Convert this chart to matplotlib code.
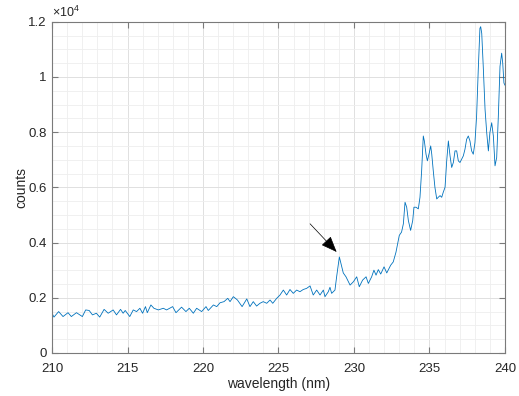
import matplotlib
matplotlib.use('Agg')
import matplotlib.pyplot as plt
from matplotlib.ticker import MultipleLocator

plt.rcParams['font.family'] = ['Liberation Sans', 'DejaVu Sans']
plt.rcParams['mathtext.fontset'] = 'custom'
plt.rcParams['mathtext.rm'] = 'Liberation Sans'

# spectrum (wavelength nm, counts)
wavelength = [
    210.00, 210.13, 210.44, 210.73, 211.06, 211.28, 211.62, 212.01, 212.23, 212.46,
    212.68, 212.94, 213.16, 213.45, 213.72, 214.05, 214.27, 214.54, 214.71, 214.85,
    215.15, 215.38, 215.60, 215.82, 216.00, 216.19, 216.31, 216.55, 216.75, 217.04,
    217.37, 217.59, 217.99, 218.21, 218.58, 218.87, 219.09, 219.36, 219.58, 219.91,
    220.20, 220.35, 220.69, 220.91, 221.13, 221.39, 221.64, 221.79, 222.01, 222.28,
    222.59, 222.90, 223.11, 223.33, 223.55, 223.77, 223.99, 224.22, 224.44, 224.62,
    224.88, 225.10, 225.32, 225.54, 225.76, 225.98, 226.20, 226.42, 226.64, 226.86,
    227.09, 227.30, 227.53, 227.75, 227.97, 228.08, 228.30, 228.41, 228.52, 228.74,
    228.85, 229.03, 229.19, 229.29, 229.47, 229.74, 229.96, 230.18, 230.35, 230.57,
    230.80, 230.95, 231.17, 231.32, 231.46, 231.61, 231.77, 231.99, 232.17, 232.43,
    232.60, 232.78, 232.87, 233.00, 233.15, 233.27, 233.38, 233.49, 233.60, 233.75,
    233.89, 233.97, 234.11, 234.26, 234.37, 234.48, 234.59, 234.66, 234.77, 234.86,
    234.99, 235.08, 235.15, 235.25, 235.36, 235.48, 235.58, 235.70, 235.81, 235.91,
    236.03, 236.14, 236.25, 236.36, 236.47, 236.58, 236.69, 236.80, 236.91, 237.02,
    237.13, 237.24, 237.35, 237.46, 237.57, 237.68, 237.79, 237.90, 238.01, 238.12,
    238.23, 238.34, 238.39, 238.46, 238.56, 238.68, 238.79, 238.90, 239.00, 239.12,
    239.23, 239.34, 239.45, 239.56, 239.67, 239.78, 239.85, 239.93, 240.00,
]
counts = [
    1440, 1300, 1500, 1320, 1460, 1320, 1460, 1320, 1560, 1540,
    1380, 1440, 1300, 1580, 1440, 1560, 1380, 1580, 1440, 1540,
    1320, 1560, 1500, 1620, 1440, 1680, 1460, 1740, 1620, 1560,
    1620, 1560, 1680, 1460, 1660, 1500, 1620, 1440, 1620, 1500,
    1680, 1540, 1740, 1680, 1820, 1860, 1980, 1860, 2040, 1920,
    1680, 1960, 1680, 1860, 1700, 1800, 1860, 1800, 1920, 1800,
    1980, 2100, 2280, 2100, 2300, 2160, 2280, 2220, 2300, 2340,
    2430, 2100, 2280, 2100, 2280, 2040, 2220, 2380, 2160, 2280,
    2760, 3480, 3120, 2900, 2760, 2460, 2580, 2760, 2400, 2640,
    2760, 2520, 2760, 3000, 2820, 3020, 2860, 3120, 2900, 3180,
    3300, 3650, 3900, 4260, 4380, 4680, 5460, 5280, 4800, 4440,
    4800, 5280, 5280, 5220, 5640, 6600, 7860, 7680, 7200, 6960,
    7260, 7500, 7200, 6600, 6000, 5580, 5640, 5700, 5640, 5820,
    6000, 6960, 7680, 7140, 6720, 6900, 7320, 7320, 6960, 6900,
    7020, 7140, 7380, 7740, 7860, 7680, 7320, 7200, 7620, 8580,
    10260, 11760, 11820, 11580, 10380, 8820, 7980, 7320, 7980, 8340,
    7860, 6780, 7080, 8580, 10380, 10860, 10500, 9780, 9700,
]

y_ticks = [0, 2000, 4000, 6000, 8000, 10000, 12000]
y_tick_labels = ['0', '0.2', '0.4', '0.6', '0.8', '1', '1.2']
x_ticks = [210, 215, 220, 225, 230, 235, 240]

# arrow pointing at the small peak near 229 nm
arrow_tail = (227.09, 4680)
arrow_head = (228.85, 3660)

fig = plt.figure(figsize=(5.19, 3.96), dpi=100)
ax = fig.add_axes([0.1002, 0.1086, 0.8728, 0.8366])

ax.plot(wavelength, counts, color='#0072BD', lw=0.6)

ax.set_xlim(210, 240)
ax.set_ylim(0, 12000)
ax.set_xticks(x_ticks)
ax.set_yticks(y_ticks)
ax.set_yticklabels(y_tick_labels)
ax.xaxis.set_minor_locator(MultipleLocator(1))
ax.yaxis.set_minor_locator(MultipleLocator(500))

# matlab-ish grid and box
ax.grid(True, which='major', color='#e0e0e0', lw=0.7)
ax.grid(True, which='minor', color='#eeeeee', lw=0.6)
ax.set_axisbelow(True)
for s in ax.spines.values():
    s.set_color('#7a7a7a')
    s.set_linewidth(0.8)
ax.tick_params(which='major', direction='in', length=4, width=0.8, color='#7a7a7a',
               top=True, right=True, labelsize=9.5, labelcolor='#262626')
ax.tick_params(axis='x', which='major', pad=7)
ax.tick_params(axis='y', which='major', pad=4)
ax.tick_params(which='minor', length=0, top=True, right=True)

ax.set_xlabel('wavelength (nm)', fontsize=10, color='#262626', labelpad=2)
ax.set_ylabel('counts', fontsize=10, color='#262626', labelpad=0)
ax.text(0.0, 1.005, r'$\times10^{4}$', transform=ax.transAxes, fontsize=9,
        color='#262626', ha='left', va='bottom')

ax.annotate('', xy=arrow_head, xytext=arrow_tail,
            arrowprops=dict(arrowstyle='-|>,head_length=1.0,head_width=0.4',
                            color='black', lw=0.5, shrinkA=0, shrinkB=0))

fig.savefig('out.png', dpi=100)
